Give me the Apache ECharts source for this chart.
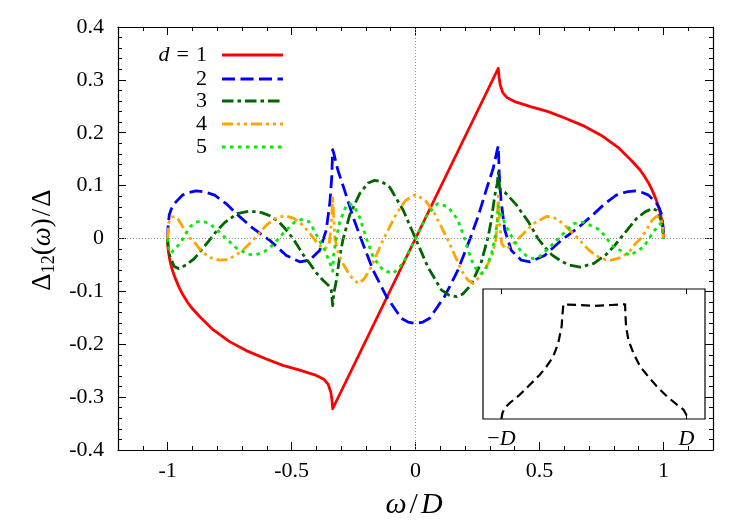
<!DOCTYPE html>
<html>
<head>
<meta charset="utf-8">
<script src="https://cdn.jsdelivr.net/npm/echarts@6/dist/echarts.min.js"></script>
<style>html,body{margin:0;padding:0;background:#fff}#c{width:747px;height:523px}</style>
</head>
<body>
<div id="c"></div>
<script>
// ---------- data ----------
const xTickValues = [-1, -0.5, 0, 0.5, 1];
const insetTickValues = [-1, 1];
const legendLabels = ['1', '2', '3', '4', '5'];

const d1 = [[-1,0],[-0.9995,-0.01],[-0.998,-0.02],[-0.995,-0.03],[-0.99,-0.043],[-0.982,-0.058],[-0.97,-0.074],[-0.955,-0.091],[-0.939,-0.106],[-0.92,-0.12],[-0.905,-0.13],[-0.87,-0.148],[-0.818,-0.172],[-0.75,-0.195],[-0.683,-0.212],[-0.602,-0.228],[-0.535,-0.24],[-0.467,-0.249],[-0.4,-0.259],[-0.37,-0.266],[-0.352,-0.276],[-0.342,-0.29],[-0.337,-0.305],[-0.334,-0.322],[0,0],[0.334,0.322],[0.337,0.305],[0.342,0.29],[0.352,0.276],[0.37,0.266],[0.4,0.259],[0.467,0.249],[0.535,0.24],[0.602,0.228],[0.683,0.212],[0.75,0.195],[0.818,0.172],[0.87,0.148],[0.905,0.13],[0.92,0.12],[0.939,0.106],[0.955,0.091],[0.97,0.074],[0.982,0.058],[0.99,0.043],[0.995,0.03],[0.998,0.02],[0.9995,0.01],[1,0]];

const d2 = [[-1,0],[-0.998,0.025],[-0.993,0.045],[-0.984,0.057],[-0.973,0.066],[-0.94,0.082],[-0.915,0.087],[-0.885,0.09],[-0.85,0.088],[-0.81,0.082],[-0.764,0.066],[-0.723,0.047],[-0.655,0.019],[-0.589,-0.003],[-0.521,-0.032],[-0.467,-0.044],[-0.427,-0.041],[-0.386,-0.022],[-0.36,0.016],[-0.345,0.07],[-0.338,0.115],[-0.334,0.168],[-0.33,0.162],[-0.313,0.129],[-0.286,0.091],[-0.252,0.041],[-0.218,-0.003],[-0.171,-0.06],[-0.117,-0.11],[-0.057,-0.151],[-0.03,-0.158],[0,-0.161],[0.03,-0.158],[0.057,-0.151],[0.117,-0.11],[0.171,-0.06],[0.218,-0.003],[0.252,0.041],[0.286,0.093],[0.313,0.132],[0.33,0.168],[0.334,0.175],[0.338,0.12],[0.345,0.072],[0.36,0.016],[0.386,-0.022],[0.427,-0.041],[0.462,-0.044],[0.521,-0.032],[0.589,-0.003],[0.655,0.02],[0.723,0.048],[0.764,0.066],[0.81,0.082],[0.85,0.088],[0.886,0.09],[0.915,0.087],[0.94,0.082],[0.973,0.066],[0.984,0.057],[0.993,0.045],[0.998,0.025],[1,0]];

const d3 = [[-1,0],[-0.996,-0.022],[-0.99,-0.035],[-0.973,-0.053],[-0.955,-0.057],[-0.925,-0.05],[-0.892,-0.038],[-0.864,-0.022],[-0.831,-0.003],[-0.804,0.013],[-0.77,0.03],[-0.72,0.047],[-0.669,0.052],[-0.62,0.049],[-0.588,0.043],[-0.55,0.031],[-0.521,0.016],[-0.494,0],[-0.454,-0.03],[-0.427,-0.047],[-0.4,-0.065],[-0.373,-0.079],[-0.346,-0.091],[-0.34,-0.097],[-0.334,-0.127],[-0.33,-0.105],[-0.319,-0.079],[-0.306,-0.035],[-0.293,-0.003],[-0.265,0.045],[-0.225,0.085],[-0.191,0.105],[-0.165,0.11],[-0.135,0.107],[-0.104,0.097],[-0.05,0.054],[0,0],[0.05,-0.054],[0.104,-0.097],[0.135,-0.107],[0.165,-0.11],[0.191,-0.105],[0.225,-0.087],[0.265,-0.045],[0.293,0.003],[0.306,0.035],[0.319,0.079],[0.33,0.105],[0.334,0.125],[0.34,0.093],[0.361,0.087],[0.385,0.075],[0.408,0.063],[0.43,0.048],[0.455,0.032],[0.494,0],[0.521,-0.016],[0.55,-0.031],[0.588,-0.043],[0.62,-0.05],[0.664,-0.054],[0.72,-0.047],[0.77,-0.03],[0.804,-0.013],[0.831,0.003],[0.864,0.022],[0.892,0.038],[0.925,0.05],[0.955,0.057],[0.973,0.053],[0.99,0.035],[0.996,0.022],[1,0]];

const d4 = [[-1,0],[-0.995,0.03],[-0.985,0.04],[-0.972,0.042],[-0.955,0.035],[-0.93,0.015],[-0.91,0.001],[-0.885,-0.011],[-0.864,-0.024],[-0.83,-0.036],[-0.79,-0.041],[-0.76,-0.04],[-0.73,-0.033],[-0.696,-0.022],[-0.645,0.002],[-0.6,0.026],[-0.56,0.039],[-0.527,0.043],[-0.49,0.038],[-0.454,0.025],[-0.42,0.006],[-0.39,-0.012],[-0.365,-0.02],[-0.348,-0.01],[-0.339,0.03],[-0.334,0.08],[-0.33,0.04],[-0.325,0.0],[-0.31,-0.03],[-0.293,-0.047],[-0.265,-0.07],[-0.232,-0.085],[-0.21,-0.078],[-0.185,-0.06],[-0.131,-0.003],[-0.077,0.047],[-0.04,0.072],[0,0.083],[0.04,0.072],[0.077,0.047],[0.131,-0.003],[0.185,-0.06],[0.21,-0.078],[0.232,-0.085],[0.265,-0.07],[0.293,-0.047],[0.31,-0.03],[0.325,0.0],[0.33,0.04],[0.334,0.08],[0.339,0.03],[0.348,-0.01],[0.365,-0.02],[0.39,-0.012],[0.435,0.009],[0.475,0.028],[0.53,0.042],[0.56,0.039],[0.596,0.028],[0.65,0.003],[0.7,-0.022],[0.73,-0.033],[0.765,-0.04],[0.79,-0.041],[0.83,-0.036],[0.864,-0.024],[0.885,-0.011],[0.91,0.001],[0.93,0.015],[0.955,0.035],[0.972,0.042],[0.985,0.04],[0.995,0.03],[1,0]];

const d5 = [[-1,0],[-0.995,-0.02],[-0.987,-0.028],[-0.97,-0.02],[-0.945,-0.006],[-0.93,0.006],[-0.91,0.022],[-0.885,0.031],[-0.862,0.033],[-0.83,0.028],[-0.8,0.016],[-0.764,0.0],[-0.723,-0.018],[-0.677,-0.03],[-0.645,-0.031],[-0.61,-0.025],[-0.575,-0.012],[-0.53,0.012],[-0.49,0.03],[-0.46,0.036],[-0.43,0.032],[-0.414,0.02],[-0.386,-0.005],[-0.366,-0.022],[-0.346,-0.045],[-0.334,-0.062],[-0.33,-0.03],[-0.32,0.0],[-0.306,0.03],[-0.28,0.062],[-0.265,0.066],[-0.245,0.058],[-0.225,0.04],[-0.198,0.0],[-0.171,-0.035],[-0.131,-0.06],[-0.09,-0.066],[-0.05,-0.047],[0,0],[0.05,0.047],[0.09,0.066],[0.131,0.06],[0.171,0.035],[0.198,0.0],[0.225,-0.04],[0.245,-0.058],[0.265,-0.066],[0.28,-0.062],[0.306,-0.03],[0.32,0.0],[0.33,0.03],[0.334,0.062],[0.346,0.045],[0.366,0.022],[0.386,0.005],[0.422,-0.022],[0.45,-0.034],[0.475,-0.038],[0.5,-0.034],[0.529,-0.022],[0.583,0.003],[0.637,0.028],[0.677,0.031],[0.745,0.016],[0.798,-0.016],[0.866,-0.032],[0.92,-0.016],[0.96,0.013],[0.987,0.028],[0.995,0.02],[1,0]];

const dos = [[-1.001,0],[-0.99,0.046],[-0.965,0.084],[-0.911,0.123],[-0.803,0.186],[-0.694,0.263],[-0.586,0.34],[-0.513,0.404],[-0.441,0.48],[-0.387,0.583],[-0.35,0.711],[-0.34,0.813],[-0.333,0.864],[-0.333,0.882],[-0.188,0.877],[0,0.87],[0.188,0.877],[0.336,0.882],[0.34,0.8],[0.347,0.711],[0.372,0.608],[0.426,0.506],[0.499,0.404],[0.571,0.34],[0.68,0.25],[0.789,0.173],[0.897,0.11],[0.969,0.071],[0.998,0.033],[1.005,0]];

// ---------- chart ----------
const FONT = '"Liberation Serif", "DejaVu Serif", serif';
const chart = echarts.init(document.getElementById('c'), null, {renderer: 'canvas'});

const curves = [d1, d2, d3, d4, d5];
const colors = ['#ff0000', '#0000ff', '#006400', '#ffa500', '#00ee00'];
const dashes = ['solid', [13, 5.5], [11.5, 4, 3.5, 4], [11, 4, 3, 4, 3, 4], [3.5, 4.5]];

const mainXAxis = (pos, labels, minor) => ({
  gridIndex: 0, type: 'value', min: -1.2, max: 1.2, position: pos,
  interval: minor ? 0.1 : undefined,
  axisLine: {show: !minor, onZero: false, lineStyle: {color: '#000', width: 1.2}},
  axisTick: minor ? {show: true, inside: true, length: 4, lineStyle: {color: '#000'}}
                  : {show: true, inside: true, length: 8, customValues: xTickValues, lineStyle: {color: '#000'}},
  axisLabel: labels ? {show: true, customValues: xTickValues, margin: 10, fontFamily: FONT, fontSize: 22, color: '#000'} : {show: false},
  splitLine: {show: false}
});
const mainYAxis = (pos, labels) => ({
  gridIndex: 0, type: 'value', min: -0.4, max: 0.4, interval: 0.1, position: pos,
  axisLine: {show: true, onZero: false, lineStyle: {color: '#000', width: 1.2}},
  axisTick: {show: true, inside: true, length: 8, lineStyle: {color: '#000'}},
  minorTick: {show: true, splitNumber: 5, length: 4, lineStyle: {color: '#000'}},
  axisLabel: labels ? {show: true, margin: 14, fontFamily: FONT, fontSize: 22, color: '#000'} : {show: false},
  splitLine: {show: false}
});

const series = [{
  type: 'line', data: [], xAxisIndex: 0, yAxisIndex: 0, z: 1, silent: true,
  markLine: {silent: true, symbol: 'none', label: {show: false}, animation: false,
    lineStyle: {type: [1, 2], color: '#999', width: 1},
    data: [{xAxis: 0}, {yAxis: 0}]}
}];
curves.forEach((c, i) => series.push({
  type: 'line', data: c, xAxisIndex: 0, yAxisIndex: 0, z: 2 + i,
  showSymbol: false, symbol: 'none', smooth: false, animation: false,
  lineStyle: {color: colors[i], width: 2.8, type: dashes[i], cap: 'butt', join: 'round'}
}));
series.push({
  type: 'line', data: dos, xAxisIndex: 4, yAxisIndex: 2, z: 20,
  showSymbol: false, symbol: 'none', smooth: false, animation: false,
  lineStyle: {color: '#000', width: 2.2, type: [9, 5], join: 'round'},
  markLine: {silent: true, symbol: 'none', label: {show: false}, animation: false,
    lineStyle: {type: [1, 2], color: '#aaa', width: 1}, data: [{xAxis: 0}]}
});

const legendRowsY = [55, 79, 101, 124, 147];
const graphics = [];
const richBase = {
  i: {fontStyle: 'italic', fontFamily: FONT, fontSize: 22, fill: '#000'},
  e: {fontFamily: FONT, fontSize: 22, padding: [0, 7], fill: '#000'},
  n: {fontFamily: FONT, fontSize: 22, fill: '#000'}
};
legendLabels.forEach((lab, i) => {
  graphics.push({
    type: 'text', z: 50,
    style: {
      text: i === 0 ? '{i|d}{e|=}{n|' + lab + '}' : '{n|' + lab + '}',
      x: 207, y: legendRowsY[i], align: 'right', verticalAlign: 'middle',
      rich: richBase
    }
  });
  graphics.push({
    type: 'line', z: 50,
    shape: {x1: 222, y1: legendRowsY[i], x2: 283, y2: legendRowsY[i]},
    style: {stroke: colors[i], lineWidth: 2.8, lineDash: dashes[i] === 'solid' ? null : dashes[i]}
  });
});
// axis titles
graphics.push({
  type: 'text', z: 50, x: 43, y: 240, rotation: Math.PI / 2,
  style: {
    text: '{a|Δ}{s|12}{a|(}{i|ω}{a|)}{b|/}{a|Δ}', align: 'center', verticalAlign: 'middle',
    rich: {
      a: {fontFamily: FONT, fontSize: 27, lineHeight: 30, fill: '#000'},
      b: {fontFamily: FONT, fontSize: 27, lineHeight: 30, padding: [0, 2], fill: '#000'},
      i: {fontFamily: FONT, fontSize: 27, fontStyle: 'italic', lineHeight: 30, fill: '#000'},
      s: {fontFamily: FONT, fontSize: 18, lineHeight: 16, verticalAlign: 'bottom', fill: '#000'}
    }
  }
});
graphics.push({
  type: 'text', z: 50, x: 414, y: 505,
  style: {
    text: '{i|ω}{a|/}{i|D}', align: 'center', verticalAlign: 'middle',
    rich: {
      a: {fontFamily: FONT, fontSize: 30, padding: [0, 3], fill: '#000'},
      i: {fontFamily: FONT, fontSize: 30, fontStyle: 'italic', fill: '#000'}
    }
  }
});

chart.setOption({
  animation: false,
  backgroundColor: '#fff',
  grid: [
    {left: 118, top: 27, right: 34, bottom: 73, show: false},
    {left: 483, top: 289, width: 222, height: 130, show: true, backgroundColor: '#fff', borderColor: '#000', borderWidth: 1.2, z: 10}
  ],
  xAxis: [
    mainXAxis('bottom', true, false),
    mainXAxis('bottom', false, true),
    mainXAxis('top', false, false),
    mainXAxis('top', false, true),
    {gridIndex: 1, type: 'value', min: -1.2, max: 1.2, position: 'bottom', z: 12,
     axisLine: {show: false, onZero: false},
     axisTick: {show: true, inside: true, length: 5, customValues: insetTickValues, lineStyle: {color: '#000'}},
     axisLabel: {show: true, customValues: insetTickValues, margin: 9,
       formatter: v => v < 0 ? '{a|−}{i|D}' : '{i|D}',
       rich: {a: {fontFamily: FONT, fontSize: 22, color: '#000'}, i: {fontFamily: FONT, fontSize: 22, fontStyle: 'italic', color: '#000'}}},
     splitLine: {show: false}},
    {gridIndex: 1, type: 'value', min: -1.2, max: 1.2, position: 'top', z: 12,
     axisLine: {show: false, onZero: false},
     axisTick: {show: true, inside: true, length: 5, customValues: insetTickValues, lineStyle: {color: '#000'}},
     axisLabel: {show: false}, splitLine: {show: false}}
  ],
  yAxis: [
    mainYAxis('left', true),
    mainYAxis('right', false),
    {gridIndex: 1, type: 'value', min: 0, max: 1, show: false}
  ],
  series: series,
  graphic: graphics
});
</script>
</body>
</html>
